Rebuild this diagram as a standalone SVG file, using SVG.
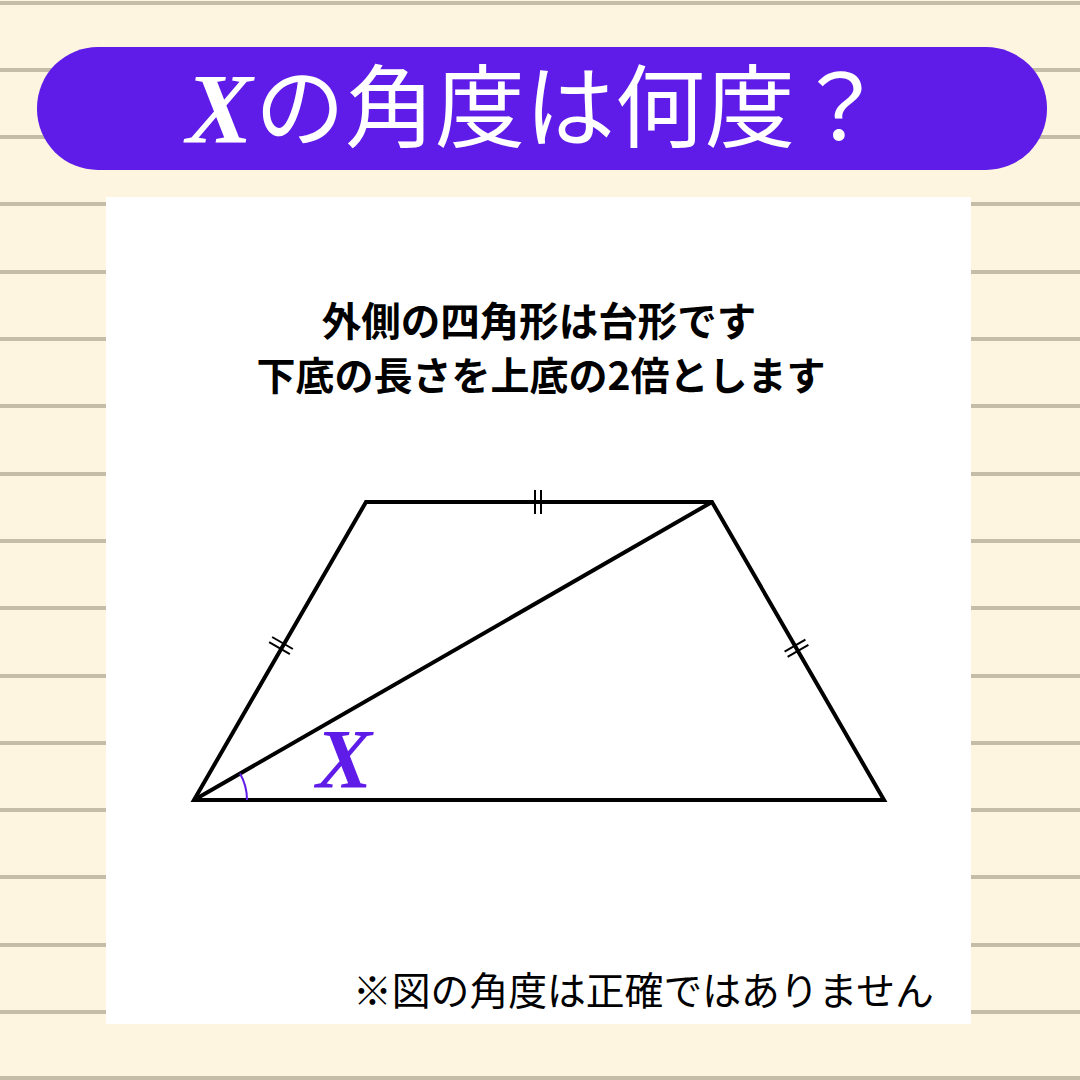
<svg xmlns="http://www.w3.org/2000/svg" width="1080" height="1080" viewBox="0 0 1080 1080">
<style>
.rule{stroke:#c6bda9;stroke-width:4}
.edge{stroke:#000;stroke-width:4;fill:none;stroke-linejoin:miter}
.tick{stroke:#000;stroke-width:2}
.jp{font-family:"Noto Sans CJK JP","Noto Sans",sans-serif}
.xs{font-family:"Liberation Serif","DejaVu Serif",serif;font-style:italic}
</style>
<rect width="1080" height="1080" fill="#fdf5e0"/>
<g id="rules">
<line class="rule" x1="0" y1="3" x2="1080" y2="3"/>
<line class="rule" x1="0" y1="70" x2="1080" y2="70"/>
<line class="rule" x1="0" y1="137" x2="1080" y2="137"/>
<line class="rule" x1="0" y1="204" x2="1080" y2="204"/>
<line class="rule" x1="0" y1="272" x2="1080" y2="272"/>
<line class="rule" x1="0" y1="339" x2="1080" y2="339"/>
<line class="rule" x1="0" y1="406" x2="1080" y2="406"/>
<line class="rule" x1="0" y1="474" x2="1080" y2="474"/>
<line class="rule" x1="0" y1="541" x2="1080" y2="541"/>
<line class="rule" x1="0" y1="608" x2="1080" y2="608"/>
<line class="rule" x1="0" y1="676" x2="1080" y2="676"/>
<line class="rule" x1="0" y1="743" x2="1080" y2="743"/>
<line class="rule" x1="0" y1="810" x2="1080" y2="810"/>
<line class="rule" x1="0" y1="877" x2="1080" y2="877"/>
<line class="rule" x1="0" y1="945" x2="1080" y2="945"/>
<line class="rule" x1="0" y1="1012" x2="1080" y2="1012"/>
<line class="rule" x1="0" y1="1078" x2="1080" y2="1078"/>
</g>
<rect x="106" y="197" width="865" height="827" fill="#ffffff"/>
<g id="title">
<rect x="37" y="47" width="1010" height="123" rx="61" ry="61" fill="#5f1be8"/>
<text class="xs" x="186" y="142" font-size="100" font-weight="bold" fill="#fff">X</text>
<text class="jp" x="255" y="140" font-size="90" fill="#fff">の角度は何度？</text>
</g>
<g id="statement">
<text class="jp" x="539" y="336" font-size="39.5" font-weight="bold" text-anchor="middle" fill="#000">外側の四角形は台形です</text>
<text class="jp" x="541" y="390" font-size="39" font-weight="bold" text-anchor="middle" fill="#000">下底の長さを上底の2倍とします</text>
</g>
<g id="trapezoid">
<polygon class="edge" points="194,800 366,502 712,502 884,800"/>
</g>
<g id="connectors">
<line class="edge" x1="194" y1="800" x2="712" y2="502"/>
</g>
<g id="ticks">
<line class="tick" x1="535" y1="490" x2="535" y2="514"/>
<line class="tick" x1="541" y1="490" x2="541" y2="514"/>
<line class="tick" x1="269.1" y1="642.2" x2="289.9" y2="654.2"/>
<line class="tick" x1="272.1" y1="637.0" x2="292.9" y2="649.0"/>
<line class="tick" x1="787.6" y1="656.9" x2="808.4" y2="644.9"/>
<line class="tick" x1="784.6" y1="651.7" x2="805.4" y2="639.7"/>
</g>
<g id="angle">
<path d="M247,800 A53,53 0 0 0 240,773.6" fill="none" stroke="#5f1be8" stroke-width="2"/>
<text class="xs" x="316" y="788" font-size="84" font-weight="bold" fill="#5f1be8">X</text>
</g>
<g id="note">
<text class="jp" x="353" y="1005" font-size="38.8" fill="#000">※図の角度は正確ではありません</text>
</g>
</svg>
